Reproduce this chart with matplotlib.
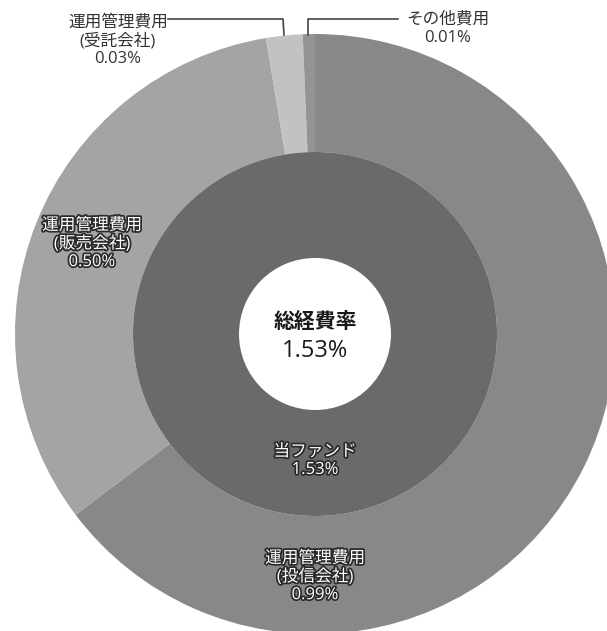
import matplotlib
matplotlib.use('Agg')
import matplotlib.pyplot as plt
import matplotlib.patheffects as pe

plt.rcParams['font.family'] = ['Open Sans', 'Noto Sans CJK JP', 'DejaVu Sans']

# outer ring: breakdown of expenses (%)
outer_labels = ['運用管理費用\n(投信会社)', '運用管理費用\n(販売会社)', '運用管理費用\n(受託会社)', 'その他費用']
outer_values = [0.99, 0.50, 0.03, 0.01]
outer_colors = ['#888888', '#a4a4a4', '#c2c2c2', '#949494']

# inner ring: the fund total
inner_label = '当ファンド'
inner_values = [1.53]
total_label = '総経費率'
total_value = 1.53

W, H = 607, 631
fig = plt.figure(figsize=(W / 100, H / 100), dpi=100)
ax = fig.add_axes([0, 0, 1, 1])

cx, cy = 315, H - 334
r_out, r_mid, r_in = 300, 182, 76

ax.pie(outer_values, colors=outer_colors, radius=r_out, center=(cx, cy),
       startangle=90, counterclock=False,
       wedgeprops=dict(width=r_out - r_mid, linewidth=0))
ax.pie(inner_values, colors=['#6a6a6a'], radius=r_mid, center=(cx, cy),
       startangle=90, counterclock=False,
       wedgeprops=dict(width=r_mid - r_in, linewidth=0))

ax.set_xlim(0, W)
ax.set_ylim(0, H)
ax.set_aspect('equal')
ax.axis('off')

outline = [pe.withStroke(linewidth=2.5, foreground='#2a2a2a')]
fs = 12
ls = 1.15

def pct(v):
    return f'{v:.2f}%'

# labels inside the ring
ax.text(315, H - 577, outer_labels[0] + '\n' + pct(outer_values[0]), color='white',
        fontsize=fs, ha='center', va='center', linespacing=ls, path_effects=outline)
ax.text(92, H - 244, outer_labels[1] + '\n' + pct(outer_values[1]), color='white',
        fontsize=fs, ha='center', va='center', linespacing=ls, path_effects=outline)
ax.text(315, H - 461, inner_label + '\n' + pct(inner_values[0]), color='white',
        fontsize=fs, ha='center', va='center', linespacing=ls, path_effects=outline)

# outside labels with leader lines
ax.text(118, H - 41, outer_labels[2] + '\n' + pct(outer_values[2]), color='#333333',
        fontsize=fs, ha='center', va='center', linespacing=ls)
ax.plot([168, 283, 284], [H - 19, H - 19, H - 35], color='#444444', lw=1.2)
ax.text(448, H - 29, outer_labels[3] + '\n' + pct(outer_values[3]), color='#333333',
        fontsize=fs, ha='center', va='center', linespacing=ls)
ax.plot([308, 308, 398], [H - 35, H - 19, H - 19], color='#444444', lw=1.2)

# centre
ax.text(cx, H - 322, total_label, fontsize=15, fontweight='bold', color='#1a1a1a',
        ha='center', va='center')
ax.text(cx, H - 351, pct(total_value), fontsize=17, color='#1a1a1a',
        ha='center', va='center')

fig.savefig('out.png', dpi=100)
